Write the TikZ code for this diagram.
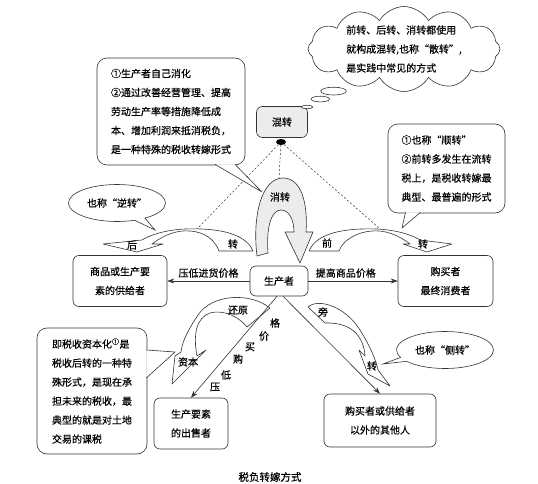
\documentclass[tikz,border=0pt]{standalone}
\usepackage{fontspec}
\newfontfamily\cjk{Noto Sans CJK SC}[FakeBold=0.4]
\usetikzlibrary{arrows.meta, shapes.callouts, shapes.geometric}

\begin{document}
\begin{tikzpicture}[
    x=1pt, y=-1pt,
    font=\cjk\fontsize{10pt}{19pt}\selectfont,
    % Cajas de esquinas redondeadas, texto centrado
    rbox/.style={
        rectangle,
        draw=black!80,
        fill=white,
        rounded corners=6pt,
        align=center,
        inner sep=2pt,
        line width=0.6pt
    },
    nota/.style={rbox, rounded corners=10pt, align=left},
    globo/.style={ellipse callout, draw=black!80, fill=white, inner sep=1pt, line width=0.6pt,
        minimum width=97pt, minimum height=37pt, callout pointer arc=14},
    nube/.style={cloud callout, draw=black!80, fill=white, line width=0.6pt,
        cloud puffs=12, cloud puff arc=120, cloud ignores aspect,
        minimum width=192pt, minimum height=85pt, inner sep=0pt,
        callout pointer start size=.17 of callout, callout pointer end size=.06 of callout,
        callout pointer segments=3},
    band/.style={draw=black!80, fill=white, line width=0.6pt, line join=round},
    pico/.style={draw=black!80, fill=white, line width=0.6pt, line join=round},
    arr/.style={->, >={Stealth[length=7pt, width=5pt]}, line width=0.6pt, draw=black!80},
    guia/.style={draw=black!80, line width=0.5pt, dash pattern=on 2pt off 2pt},
    etq/.style={inner sep=0pt}
]
    \useasboundingbox (0,0) rectangle (538,484);

    % --- MIXTO ---
    \node[rbox, fill=gray!15, minimum width=51pt, minimum height=31pt] (hun) at (282,122) {混转};
    \node[ellipse, fill=black, minimum width=10pt, minimum height=6pt, inner sep=0pt] (hub) at (281,142) {};

    % --- PUNTOS DE LLEGADA ---
    \coordinate (topL) at (197,229);
    \coordinate (topM) at (279,179);
    \coordinate (topR) at (379,228);

    % --- LINEAS DISCONTINUAS ---
    \draw[guia] (hub) -- (topL);
    \draw[guia] (hub) -- (topM);
    \draw[guia] (hub) -- (topR);

    % --- FLECHAS CURVAS ---
    % 后转
    \draw[band] (253,251) .. controls (245,232) and (215,228) .. (185,229)
        .. controls (165,230) and (150,235) .. (142,240) -- (103,244) -- (137,252) -- (163,244) -- (152,244)
        .. controls (165,234) and (178,230) .. (190,231) .. controls (205,232) and (215,240) .. (219,251) -- cycle;
    % 前转
    \draw[band] (309,251) .. controls (317,232) and (347,228) .. (377,229)
        .. controls (397,230) and (412,235) .. (420,240) -- (452,244) -- (427,252) -- (403,244) -- (410,244)
        .. controls (397,234) and (384,230) .. (372,231) .. controls (357,232) and (343,240) .. (339,251) -- cycle;
    % 消转
    \draw[band, fill=gray!15] (257,256) .. controls (252,215) and (262,178) .. (283,178)
        .. controls (302,178) and (308,205) .. (306,232) -- (313,232) -- (300,263) -- (285,232) -- (294,232)
        .. controls (294,220) and (289,210) .. (281,210) .. controls (272,210) and (266,225) .. (268,253) -- cycle;
    % 还原 / 资本
    \draw[band] (270,308) .. controls (250,292) and (212,294) .. (198,315)
        .. controls (188,330) and (182,342) .. (181,352) -- (175,356) -- (172,384) -- (206,350) -- (197,356)
        .. controls (193,335) and (196,318) .. (210,313) .. controls (225,309) and (240,318) .. (247,327) -- cycle;
    % 旁转
    \draw[band] (308,307) .. controls (318,298) and (345,306) .. (360,330)
        .. controls (370,346) and (376,360) .. (378,370) -- (390,386) -- (368,374) -- (359,350) -- (365,356)
        .. controls (364,340) and (355,322) .. (325,323) -- cycle;

    \foreach \t/\px/\py [count=\i] in {后/132/245, 转/233/244, 前/327/243, 转/423/244, 消转/280/197,
        还原/238/310, 资本/188/362, 旁/323/312, 转/372/366}
        \node[etq] (e\i) at (\px,\py) {\t};

    % --- NODOS PRINCIPALES ---
    \node[rbox, minimum width=58pt, minimum height=30pt] (prod) at (279,281) {生产者};
    \node[rbox, minimum width=94pt, minimum height=51pt] (gong) at (120,281) {商品或生产要\\素的供给者};
    \node[rbox, minimum width=95pt, minimum height=51pt] (buy) at (445.5,281) {购买者\\最终消费者};
    \node[rbox, minimum width=74pt, minimum height=51pt] (sell) at (191,423.5) {生产要素\\的出售者};
    \node[rbox, minimum width=112pt, minimum height=53pt] (otros) at (380,420.5) {购买者或供给者\\以外的其他人};

    % --- CONEXIONES ---
    \draw[arr] (prod) -- node[above, inner sep=3pt] (l1) {压低进货价格} (gong);
    \draw[arr] (prod) -- node[above, inner sep=3pt, pos=0.42] (l2) {提高商品价格} (buy);
    \draw[arr] ([xshift=-2pt]prod.south) -- (sell.north);
    \draw[arr] ([xshift=4pt]prod.south) -- (otros.north);

    \foreach \t/\px/\py [count=\i] in {压/215/387, 低/226/375, 购/238/359, 买/250/347, 价/264/336, 格/275/323}
        \node[etq] (d\i) at (\px,\py) {\t};

    % --- NOTAS ---
    \node[nota, minimum width=148pt, minimum height=107pt] (n1) at (171,111.5)
        {①生产者自己消化\\②通过改善经营管理、提高\\劳动生产率等措施降低成\\本、增加利润来抵消税负，\\是一种特殊的税收转嫁形式};
    \node[nota, minimum width=117pt, minimum height=89pt] (n2) at (446.5,168.5)
        {①也称“顺转”\\②前转多发生在流转\\税上，是税收转嫁最\\典型、最普遍的形式};
    \node[nota, minimum width=110pt, minimum height=126pt] (n3) at (92,391)
        {即税收资本化\textsuperscript{①}是\\税收后转的一种特\\殊形式，是现在承\\担未来的税收，最\\典型的就是对土地\\交易的课税};

    \coordinate (t1) at (262,192);
    \coordinate (t2) at (402,228);
    \coordinate (t3) at (175,352);
    \draw[pico] ([xshift=44pt, yshift=1pt]n1.south) -- (t1) -- ([xshift=64pt, yshift=1pt]n1.south);
    \draw[pico] ([xshift=-41pt, yshift=1pt]n2.south) -- (t2) -- ([xshift=-26pt, yshift=1pt]n2.south);
    \draw[pico] ([xshift=-1pt, yshift=41pt]n3.east) -- (t3) -- ([xshift=-1pt, yshift=13pt]n3.east);

    \coordinate (tL) at (155,230);
    \coordinate (tR) at (383,364);
    \coordinate (tN) at (307,107);
    \node[globo, callout absolute pointer={(tL)}] (ni) at (117,203) {也称“逆转”};
    \node[globo, callout absolute pointer={(tR)}] (ce) at (445,350) {也称“侧转”};
    \node[nube, callout absolute pointer={(tN)}] (san) at (404,49) {};
    \node[align=left] (sanT) at (san.center) {前转、后转、消转都使用\\就构成混转,也称“散转”,\\是实践中常见的方式};

    % --- TITULO ---
    \node[font=\cjk\fontsize{10.5pt}{12pt}\selectfont] (titulo) at (270,477) {税负转嫁方式};

\end{tikzpicture}
\end{document}
